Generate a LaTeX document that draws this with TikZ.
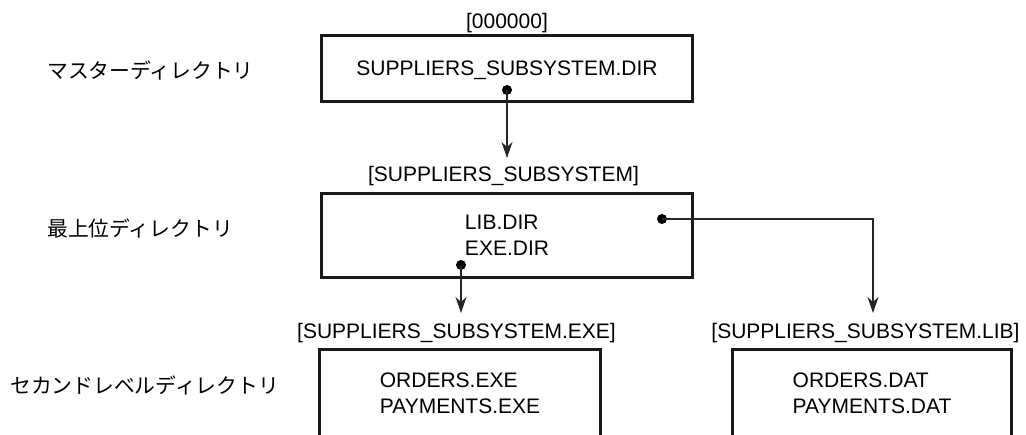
\documentclass[tikz,border=0pt]{standalone}
\usepackage{fontspec}
\setmainfont{Liberation Sans}
\newfontfamily\jpfont{Noto Sans CJK JP}
\usetikzlibrary{arrows.meta,positioning}

\begin{document}
\begin{tikzpicture}[
  x=1pt,y=-1pt,
  dirbox/.style={draw=black!90,line width=2.5pt,minimum width=371pt,align=left,inner sep=0pt,font=\fontsize{21}{26}\selectfont},
  dirname/.style={anchor=base,inner sep=0pt,font=\fontsize{21}{26}\selectfont},
  level/.style={anchor=west,inner sep=0pt,font=\jpfont\fontsize{20.8}{25}\selectfont},
  dot/.style={circle,fill=black,inner sep=0pt,minimum size=10pt},
  link/.style={draw=black!85,line width=1.1pt,-{Stealth[length=16pt,width=11pt,inset=5pt]}}
]
  \useasboundingbox (0,0) rectangle (1026,435);
  \clip (0,0) rectangle (1026,435);

  % levels
  \node[level] (master) at (47,70) {マスターディレクトリ};
  \node[level] (top) at (47,228) {最上位ディレクトリ};
  \node[level] (second) at (10,385) {セカンドレベルディレクトリ};

  % directories
  \node[dirname] (root) at (507,28.5) {[000000]};
  \node[dirbox,minimum height=66pt,text depth=0pt] (mfd) at (507,68.5) {SUPPLIERS\_SUBSYSTEM.DIR};
  \node[dirname] (subsys) at (503.5,182) {[SUPPLIERS\_SUBSYSTEM]};
  \node[dirbox,minimum height=84pt] (topdir) at (507,235.5) {LIB.DIR\\EXE.DIR};
  \node[dirname] (exename) at (456.5,339) {[SUPPLIERS\_SUBSYSTEM.EXE]};
  \node[dirname] (libname) at (865.5,339) {[SUPPLIERS\_SUBSYSTEM.LIB]};
  \node[dirbox,minimum width=281pt,minimum height=88pt] (exedir) at (460,393.5) {ORDERS.EXE\\PAYMENTS.EXE};
  \node[dirbox,minimum width=279pt,minimum height=88pt] (libdir) at (872,393.5) {ORDERS.DAT\\PAYMENTS.DAT};

  % pointers
  \coordinate (tip0) at (507,158);
  \coordinate (tip1) at (873,313);
  \coordinate (tip2) at (461,313);
  \node[dot] (d0) at (507,90) {};
  \node[dot] (d1) at (662,219) {};
  \node[dot] (d2) at (461,265) {};
  \draw[link] (d0.center) -- (tip0);
  \draw[link] (d1.center) -| (tip1);
  \draw[link] (d2.center) -- (tip2);
\end{tikzpicture}
\end{document}
